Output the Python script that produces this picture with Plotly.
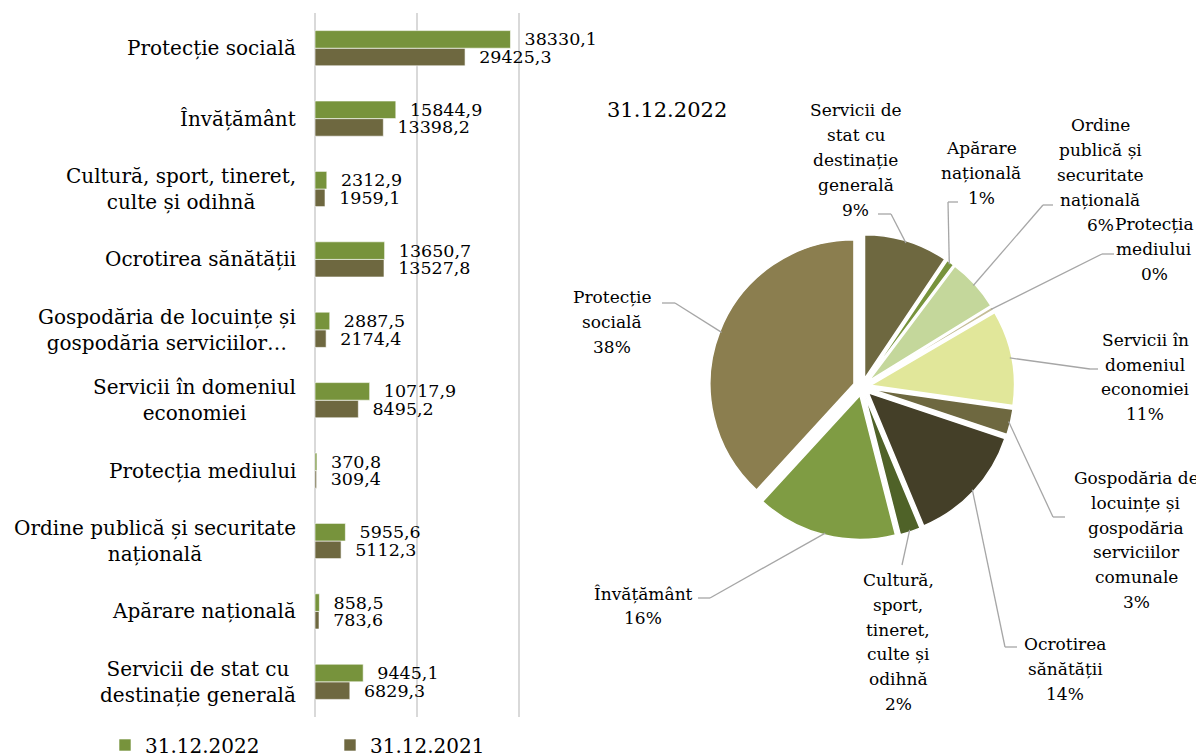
import math
import textwrap
import plotly.graph_objects as go

# ---------------- data ----------------
categories = [
    "Servicii de stat cu destinație generală",
    "Apărare națională",
    "Ordine publică și securitate națională",
    "Protecția mediului",
    "Servicii în domeniul economiei",
    "Gospodăria de locuințe și gospodăria serviciilor comunale",
    "Ocrotirea sănătății",
    "Cultură, sport, tineret, culte și odihnă",
    "Învățământ",
    "Protecție socială",
]
bar_tick_labels = [
    "Servicii de stat cu<br>destinație generală",
    "Apărare națională",
    "Ordine publică și securitate<br>națională",
    "Protecția mediului",
    "Servicii în domeniul<br>economiei",
    "Gospodăria de locuințe și<br>gospodăria serviciilor…",
    "Ocrotirea sănătății",
    "Cultură, sport, tineret,<br>culte și odihnă",
    "Învățământ",
    "Protecție socială",
]
values_2022 = [9445.1, 858.5, 5955.6, 370.8, 10717.9, 2887.5, 13650.7, 2312.9, 15844.9, 38330.1]
values_2021 = [6829.3, 783.6, 5112.3, 309.4, 8495.2, 2174.4, 13527.8, 1959.1, 13398.2, 29425.3]
series_2022 = "31.12.2022"
series_2021 = "31.12.2021"
pie_title = "31.12.2022"

# ---------------- style ----------------
W, H = 1204, 756
OFF = 8  # page body margin offset
FONT = "DejaVu Serif"
C22 = "#77933C"
C21 = "#6E6840"
pie_colors = ["#6E6840", "#77933C", "#C4D79B", "#C4BD97", "#E1E79A",
              "#6E6840", "#443F28", "#4F6228", "#7F9C43", "#8B7E4F"]
PULL = 0.06
PIE_CX, PIE_CY, PIE_R = 862, 387, 144

# label layout for pie (pixels): wrap width, label centre x, block centre y, elbow, end
pie_label_layout = [
    (11, 856, 160, (891, 214), (878, 214)),
    (9, 981, 173, (948, 202), (958, 202)),
    (10, 1100, 175, (1043, 205), (1053, 205)),
    (9, 1154, 249, (1102, 254), (1114, 254)),
    (11, 1145, 377, (1090, 369), (1098, 369)),
    (13, 1136, 540, (1053, 517), (1065, 517)),
    (9, 1065, 669, (1005, 647), (1017, 647)),
    (8, 898, 642, (902, 565), (902, 565)),
    (12, 643, 606, (710, 598), (698, 598)),
    (9, 612, 322, (675, 303), (662, 303)),
]
LINE_H = 24.8


def px(x):
    return (x - OFF) / W


def py(y):
    return 1 - (y - OFF) / H


fig = go.Figure()

# ---------------- bars ----------------
fig.add_trace(go.Bar(
    y=categories, x=values_2021, orientation="h", name=series_2021,
    marker=dict(color=C21, line=dict(color="#FFFFFF", width=0.6)),
    texttemplate="\u00a0\u00a0%{x:.1f}", textposition="outside",
    textfont=dict(family=FONT, size=17.5, color="#000000"),
    cliponaxis=False, constraintext="none", legendrank=2, hoverinfo="skip",
))
fig.add_trace(go.Bar(
    y=categories, x=values_2022, orientation="h", name=series_2022,
    marker=dict(color=C22, line=dict(color="#FFFFFF", width=0.6)),
    texttemplate="\u00a0\u00a0%{x:.1f}", textposition="outside",
    textfont=dict(family=FONT, size=17.5, color="#000000"),
    cliponaxis=False, constraintext="none", legendrank=1, hoverinfo="skip",
))

# ---------------- pie ----------------
half = PIE_R * (1 + PULL)
fig.add_trace(go.Pie(
    labels=categories, values=values_2022, sort=False, direction="clockwise",
    rotation=0, pull=[PULL] * len(values_2022), textinfo="none",
    marker=dict(colors=pie_colors, line=dict(color="#FFFFFF", width=1.5)),
    domain=dict(x=[px(PIE_CX - half), px(PIE_CX + half)],
                y=[py(PIE_CY + half), py(PIE_CY - half)]),
    showlegend=False, hoverinfo="skip",
))

annotations = []
shapes = []

# category labels for the bar chart
for cat, lab in zip(categories, bar_tick_labels):
    annotations.append(dict(
        x=px(298), xref="paper", y=cat, yref="y", xanchor="right", yanchor="middle",
        text=lab, align="center", showarrow=False,
        font=dict(family=FONT, size=20, color="#000000"),
    ))

# pie title
annotations.append(dict(
    x=px(667), y=py(110), xref="paper", yref="paper", text=pie_title,
    xanchor="center", yanchor="middle",
    showarrow=False, font=dict(family=FONT, size=21, color="#000000"),
))

# pie labels and leader lines
total = sum(values_2022)
cum = 0.0
for cat, v, (wrap, lx, ly, elbow, end) in zip(categories, values_2022, pie_label_layout):
    mid = (cum + v / 2) / total * 2 * math.pi
    cum += v
    rr = PIE_R * (1 + PULL) - 2
    ax = PIE_CX + rr * math.sin(mid)
    ay = PIE_CY - rr * math.cos(mid)
    lines = textwrap.wrap(cat, width=wrap) + [f"{round(v / total * 100)}%"]
    n = len(lines)
    for i, t in enumerate(lines):
        yy = ly + (i - (n - 1) / 2) * LINE_H
        annotations.append(dict(
            x=px(lx), y=py(yy), xref="paper", yref="paper", text=t,
            showarrow=False, xanchor="center", yanchor="middle",
            font=dict(family=FONT, size=17, color="#000000"),
        ))
    shapes.append(dict(type="line", xref="paper", yref="paper",
                       x0=px(ax), y0=py(ay), x1=px(elbow[0]), y1=py(elbow[1]),
                       line=dict(color="#A6A6A6", width=1.3)))
    if end != elbow:
        shapes.append(dict(type="line", xref="paper", yref="paper",
                           x0=px(elbow[0]), y0=py(elbow[1]), x1=px(end[0]), y1=py(end[1]),
                           line=dict(color="#A6A6A6", width=1.3)))

fig.update_layout(
    width=W, height=H,
    margin=dict(l=0, r=0, t=0, b=0, autoexpand=False),
    paper_bgcolor="#FFFFFF", plot_bgcolor="#FFFFFF",
    separators=", ",
    barmode="group", bargap=0.5, bargroupgap=0,
    font=dict(family=FONT, size=18, color="#000000"),
    xaxis=dict(domain=[px(314), px(520)], range=[-200, 40200], dtick=20000, tick0=0,
               showgrid=True, gridcolor="#D9D9D9", gridwidth=1.5,
               showticklabels=False, zeroline=False, showline=False, ticks=""),
    yaxis=dict(domain=[py(717), py(13)], type="category",
               categoryorder="array", categoryarray=categories,
               showticklabels=False, showgrid=False, zeroline=False, showline=False),
    legend=dict(orientation="h", x=px(105), y=py(745), xanchor="left", yanchor="middle",
                font=dict(family=FONT, size=20, color="#000000"),
                entrywidth=180, entrywidthmode="pixels", traceorder="normal"),
    annotations=annotations,
    shapes=shapes,
)

fig.write_html("out.html")
